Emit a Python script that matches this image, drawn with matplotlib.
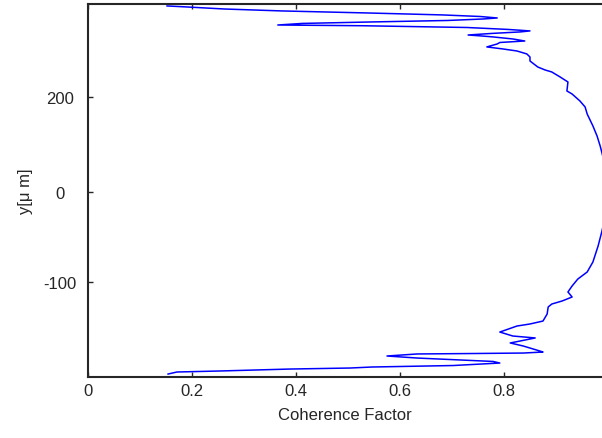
import matplotlib
matplotlib.use("Agg")
import matplotlib.pyplot as plt

# Coherence factor profile across the beam (transverse position in µm)
coherence = [
    0.152, 0.190, 0.262, 0.373, 0.538, 0.681, 0.754, 0.787, 0.760, 0.692,
    0.546, 0.412, 0.365, 0.529, 0.729, 0.808, 0.850, 0.831, 0.777, 0.731,
    0.758, 0.779, 0.817, 0.840, 0.792, 0.787, 0.767, 0.798, 0.825, 0.844,
    0.850, 0.850, 0.865, 0.879, 0.892, 0.908, 0.923, 0.921, 0.931, 0.946,
    0.956, 0.960, 0.971, 0.979, 0.985, 0.988, 0.996, 1.000, 0.996, 0.988,
    0.981, 0.971, 0.960, 0.942, 0.931, 0.923, 0.931, 0.912, 0.892, 0.885,
    0.883, 0.875, 0.850, 0.825, 0.792, 0.817, 0.860, 0.831, 0.812, 0.837,
    0.869, 0.875, 0.837, 0.744, 0.633, 0.575, 0.633, 0.779, 0.792, 0.702,
    0.546, 0.504, 0.388, 0.254, 0.171, 0.154,
]
position_um = [
    201.1, 200.0, 197.8, 195.7, 193.5, 191.4, 189.7, 188.1, 187.0, 185.4,
    183.8, 182.2, 180.5, 179.7, 177.8, 175.7, 174.1, 173.0, 171.4, 169.7,
    168.6, 167.6, 165.4, 163.2, 161.6, 160.0, 156.8, 154.6, 152.4, 149.2,
    145.9, 141.6, 135.1, 131.9, 129.7, 124.3, 118.9, 109.2, 105.9, 98.4,
    91.9, 84.3, 71.4, 60.5, 49.7, 43.2, 24.9, 0.0, -23.8, -43.2,
    -58.4, -75.7, -86.5, -94.1, -101.6, -108.1, -113.5, -117.8, -121.1, -124.3,
    -131.9, -139.5, -142.7, -144.9, -151.4, -155.7, -157.8, -161.1, -163.2, -166.5,
    -171.9, -173.0, -174.1, -174.6, -175.1, -177.3, -179.5, -183.2, -184.9, -187.6,
    -189.2, -190.3, -191.4, -193.5, -194.6, -196.8,
]

x_ticks = [0, 0.2, 0.4, 0.6, 0.8]
x_tick_labels = ["0", "0.2", "0.4", "0.6", "0.8"]
y_ticks = [102.7, 0.0, -97.3]
y_tick_labels = ["200", "0", "-100"]

plt.rcParams["font.family"] = ["Liberation Sans", "DejaVu Sans"]
text_color = "#262626"

fig = plt.figure(figsize=(6.02, 4.39), dpi=100)
ax = fig.add_axes([88 / 602, 61 / 439, 1 - 88 / 602, 373 / 439])

ax.plot(coherence, position_um, color="#0000ff", lw=1.1)

ax.set_xlim(0, 0.9885)
ax.set_ylim(-200, 203.2)

ax.set_xticks(x_ticks)
ax.set_xticklabels(x_tick_labels)
ax.set_yticks(y_ticks)
ax.set_yticklabels(y_tick_labels)

ax.tick_params(axis="both", direction="in", length=3.5, width=1.0,
               colors=text_color, labelsize=12)
ax.tick_params(axis="x", top=True, pad=4)
ax.tick_params(axis="y", right=False, pad=20)
for lab in ax.get_yticklabels():
    lab.set_horizontalalignment("center")

for side in ("left", "bottom", "top"):
    ax.spines[side].set_linewidth(1.5)
    ax.spines[side].set_color(text_color)
ax.spines["right"].set_visible(False)

ax.set_xlabel("Coherence Factor", fontsize=12, color=text_color, labelpad=7)
ax.set_ylabel("y[μ m]", fontsize=12, color=text_color)
ax.yaxis.set_label_coords((33 - 88) / 514, 0.5)

fig.savefig("out.png", dpi=100)
